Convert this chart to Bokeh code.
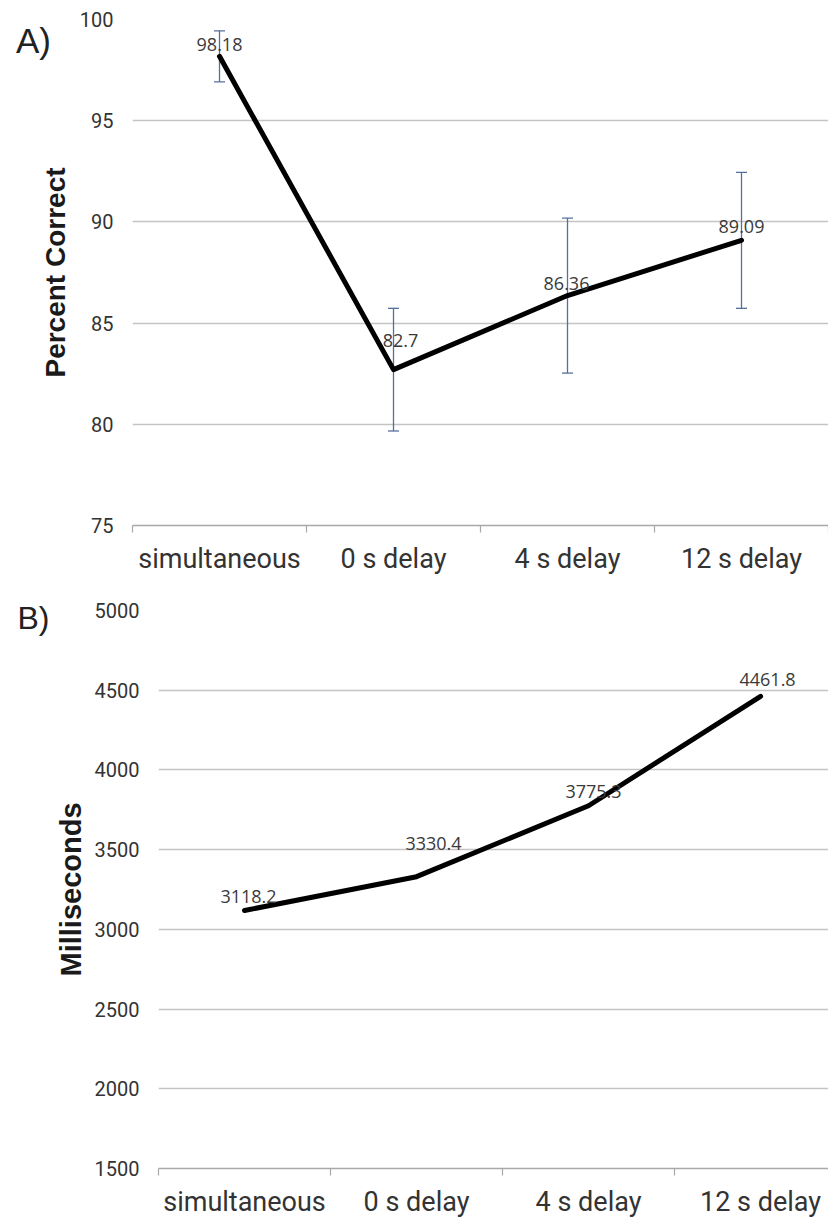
from bokeh.plotting import figure
from bokeh.models import Range1d, FixedTicker, Whisker, ColumnDataSource, Label, TeeHead
from bokeh.layouts import column
from bokeh.embed import file_html
from bokeh.resources import INLINE
from bokeh.core.properties import value

# ---------------- data ----------------
conditions = ["simultaneous", "0 s delay", "4 s delay", "12 s delay"]

pct_correct = [98.18, 82.7, 86.36, 89.09]
pct_error = [1.26, 3.03, 3.83, 3.36]
pct_text = ["98.18", "82.7", "86.36", "89.09"]
pct_ticks = [75, 80, 85, 90, 95, 100]

rt_ms = [3118.2, 3330.4, 3775.3, 4461.8]
rt_text = ["3118.2", "3330.4", "3775.3", "4461.8"]
rt_ticks = [1500, 2000, 2500, 3000, 3500, 4000, 4500, 5000]

# label placement (screen px) relative to each point
pct_dx = [0, 7, -1, 0]
pct_dy = [-12, -29, -12, -14]
rt_dx = [4, 17, 5, 7]
rt_dy = [-14, -33, -14, -17]

idx = list(range(len(conditions)))
bounds = [i - 0.5 for i in range(len(conditions) + 1)]

GRID = "#c4c4c4"
AXIS = "#a8a8a8"
TICKC = "#333333"
ERR = "#56709c"
TICKFONT = "Roboto"


def style(p, yticks, label, std, lsize):
    p.outline_line_color = None
    p.background_fill_color = "white"
    p.xgrid.visible = False
    p.ygrid.ticker = FixedTicker(ticks=yticks)
    p.ygrid.grid_line_color = GRID
    p.ygrid.grid_line_width = 1.5

    ya = p.yaxis[0]
    ya.ticker = FixedTicker(ticks=yticks)
    ya.axis_line_color = None
    ya.major_tick_line_color = None
    ya.minor_tick_line_color = None
    ya.major_tick_out = 0
    ya.major_tick_in = 0
    ya.major_label_standoff = 19
    ya.major_label_text_font = TICKFONT
    ya.major_label_text_font_size = "20px"
    ya.major_label_text_color = TICKC
    ya.axis_label = label
    ya.axis_label_text_font = "Liberation Sans"
    ya.axis_label_text_font_style = "bold"
    ya.axis_label_text_font_size = lsize
    ya.axis_label_text_color = "#1a1a1a"
    ya.axis_label_standoff = std

    xa = p.xaxis[0]
    xa.ticker = FixedTicker(ticks=idx, minor_ticks=bounds)
    xa.major_label_overrides = {i: c for i, c in enumerate(conditions)}
    xa.axis_line_color = AXIS
    xa.axis_line_width = 1.5
    xa.major_tick_line_color = None
    xa.major_tick_out = 0
    xa.major_tick_in = 0
    xa.minor_tick_line_color = AXIS
    xa.minor_tick_line_width = 1.2
    xa.minor_tick_out = 7
    xa.minor_tick_in = 0
    xa.major_label_standoff = 10
    xa.major_label_text_font = TICKFONT
    xa.major_label_text_font_size = "27px"
    xa.major_label_text_color = TICKC


def tag(text, cx, cy, size):
    return Label(x=cx, y=cy, x_units="canvas", y_units="canvas", text=text,
                 text_font="Liberation Sans", text_font_size=size, text_color="#222222",
                 text_align="center", text_baseline="middle")


# ---------------- panel A ----------------
pA = figure(width=828, height=640, x_range=Range1d(-0.5, 3.5), y_range=Range1d(75, 100),
            output_backend="svg", toolbar_location=None, margin=(0, 0, 0, 0),
            min_border_left=132, min_border_right=0, min_border_top=19, min_border_bottom=115)
pA.border_fill_color = "white"
style(pA, pct_ticks, "Percent Correct", 6, "28px")

srcA = ColumnDataSource(dict(
    x=idx, y=pct_correct, t=pct_text, dx=pct_dx, dy=pct_dy,
    upper=[v + e for v, e in zip(pct_correct, pct_error)],
    lower=[v - e for v, e in zip(pct_correct, pct_error)],
))
whA = Whisker(base="x", upper="upper", lower="lower", source=srcA,
              line_color=ERR, line_width=1.3, level="underlay",
              upper_head=TeeHead(size=11, line_color=ERR, line_width=1.3),
              lower_head=TeeHead(size=11, line_color=ERR, line_width=1.3))
pA.add_layout(whA)
pA.line("x", "y", source=srcA, line_color="black", line_width=5, line_cap="round", line_join="round")
pA.text("x", "y", text="t", source=srcA, x_offset="dx", y_offset="dy",
        text_font=value("Open Sans"), text_font_size="18px", text_color="#3a3a3a",
        text_align="center", text_baseline="middle")
pA.add_layout(tag("A)", 33, 40, "35px"), "left")
pA.add_layout(tag("B)", 33, 617, "32px"), "below")

# ---------------- panel B ----------------
pB = figure(width=802, height=635, x_range=Range1d(-0.5, 3.395), y_range=Range1d(1500, 5000),
            output_backend="svg", toolbar_location=None, margin=(-55, 0, 0, 26),
            min_border_left=132, min_border_right=0, min_border_top=25, min_border_bottom=50)
pB.border_fill_color = None
style(pB, rt_ticks, "Milliseconds", 5, "29px")

srcB = ColumnDataSource(dict(x=idx, y=rt_ms, t=rt_text, dx=rt_dx, dy=rt_dy))
pB.line("x", "y", source=srcB, line_color="black", line_width=5, line_cap="round", line_join="round")
pB.text("x", "y", text="t", source=srcB, x_offset="dx", y_offset="dy",
        text_font=value("Open Sans"), text_font_size="18px", text_color="#3a3a3a",
        text_align="center", text_baseline="middle")

layout = column(pA, pB, spacing=0)
open("out.html", "w").write(file_html(layout, INLINE))
